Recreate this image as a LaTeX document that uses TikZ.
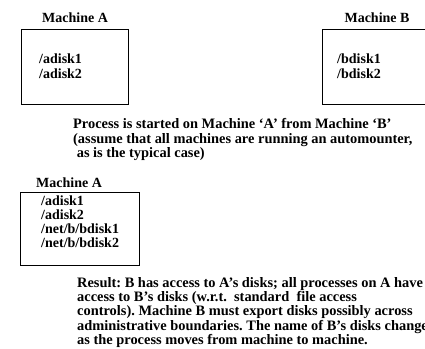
\documentclass[tikz,border=0pt]{standalone}
\usepackage{fontspec}
\setmainfont{Liberation Serif}
\begin{document}
\begin{tikzpicture}[x=1pt,y=-1pt,
  lbl/.style={font=\fontsize{14}{14.5}\selectfont\bfseries, inner sep=0pt},
  box/.style={draw, line width=0.9pt, inner sep=0pt},
  disks/.style={font=\fontsize{14}{15.5}\selectfont\bfseries, inner sep=0pt, anchor=north west, align=left},
  disksb/.style={font=\fontsize{14}{14}\selectfont\bfseries, inner sep=0pt, anchor=north west, align=left},
  para/.style={font=\fontsize{14.4}{14.4}\selectfont\bfseries\frenchspacing, inner sep=0pt, anchor=north west, align=left}]
\useasboundingbox (0,0) rectangle (425,348);
% top: Machine A
\node[lbl, anchor=base] (labA) at (75,22) {Machine A};
\node[box, anchor=north west, minimum width=107.5pt, minimum height=75pt] (boxA) at (20.5,29) {};
\node[disks] (diskA) at (39,53.3) {/adisk1\\/adisk2};
% top: Machine B
\node[lbl, anchor=base] (labB) at (377,22) {Machine B};
\node[box, anchor=north west, minimum width=110pt, minimum height=75pt] (boxB) at (322,29) {};
\node[disks] (diskB) at (337,53.3) {/bdisk1\\/bdisk2};
% process text
\node[para] (proc) at (73,118.5) {Process is started on Machine ‘A’ from Machine ‘B’\\(assume that all machines are running an automounter,\\\ as is the typical case)};
% bottom: Machine A
\node[lbl, anchor=base west] (labA2) at (36,187) {Machine A};
\node[box, anchor=north west, minimum width=119.5pt, minimum height=73pt] (boxA2) at (19.5,192) {};
\node[disksb] (diskA2) at (41,196) {/adisk1\\/adisk2\\/net/b/bdisk1\\/net/b/bdisk2};
% result text
\node[para] (res) at (77,277) {Result: B has access to A’s disks; all processes on A have\\access to B’s disks (w.r.t.\ \ standard\ \ file access\\controls). Machine B must export disks possibly across\\administrative boundaries. The name of B’s disks change\\as the process moves from machine to machine.};
\end{tikzpicture}
\end{document}
